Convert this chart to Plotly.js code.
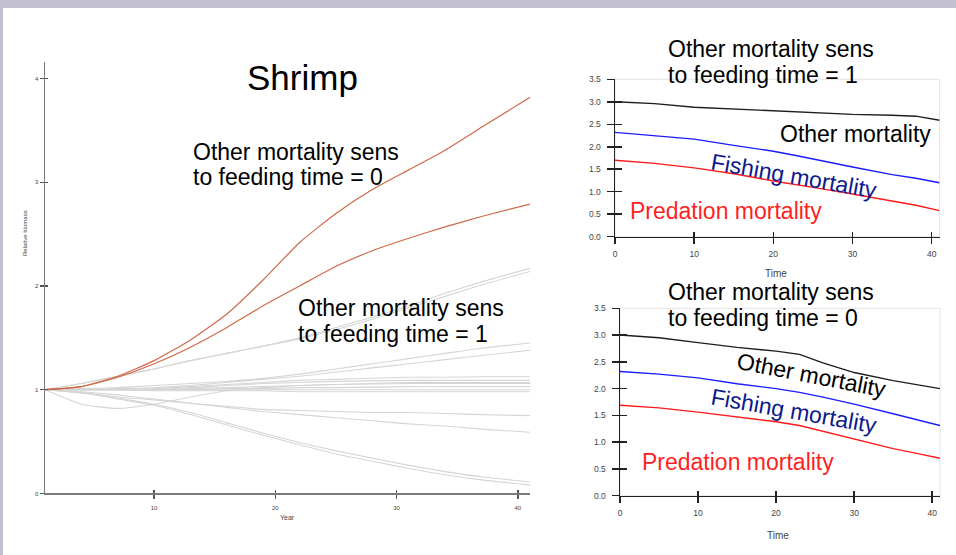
<!DOCTYPE html>
<html>
<head>
<meta charset="utf-8">
<script src="https://cdn.plot.ly/plotly-3.0.1.min.js"></script>
<style>
  html, body { margin: 0; padding: 0; background: #ffffff; }
  #chart { width: 956px; height: 555px; }
</style>
</head>
<body>
<div id="chart"></div>
<script>
// ---- Shrimp relative biomass (left panel) ----
const years = [1, 4, 7, 10, 13, 16, 19, 22, 25, 28, 31, 34, 37, 41];

// highlighted runs (other mortality sens to feeding time = 0)
const shrimpHighA = [1.00, 1.03, 1.13, 1.28, 1.48, 1.73, 2.06, 2.42, 2.70, 2.93, 3.12, 3.31, 3.53, 3.82];
const shrimpHighB = [1.00, 1.03, 1.12, 1.25, 1.41, 1.60, 1.81, 2.00, 2.19, 2.34, 2.46, 2.57, 2.67, 2.79];

// other runs (other mortality sens to feeding time = 1)
const runRiseA  = [1.00, 1.06, 1.13, 1.20, 1.28, 1.35, 1.42, 1.49, 1.58, 1.68, 1.79, 1.90, 2.01, 2.14];
const runRiseB  = [1.00, 1.06, 1.13, 1.20, 1.28, 1.35, 1.42, 1.50, 1.60, 1.70, 1.81, 1.93, 2.04, 2.17];
const runRiseC  = [1.00, 1.01, 1.02, 1.04, 1.06, 1.08, 1.11, 1.15, 1.20, 1.25, 1.30, 1.35, 1.40, 1.45];
const runRiseD  = [1.00, 1.00, 1.01, 1.02, 1.04, 1.07, 1.10, 1.13, 1.17, 1.21, 1.25, 1.29, 1.33, 1.38];
const runFlatA  = [1.00, 1.00, 1.00, 1.01, 1.03, 1.05, 1.07, 1.09, 1.10, 1.11, 1.12, 1.12, 1.125, 1.125];
const runFlatB  = [1.00, 1.00, 1.00, 1.00, 1.02, 1.04, 1.06, 1.07, 1.08, 1.085, 1.09, 1.09, 1.09, 1.09];
const runFlatC  = [1.00, 1.00, 1.00, 1.00, 1.01, 1.02, 1.03, 1.04, 1.05, 1.055, 1.06, 1.06, 1.06, 1.06];
const runFlatD  = [1.00, 1.00, 1.00, 1.00, 1.00, 1.01, 1.01, 1.02, 1.02, 1.025, 1.03, 1.03, 1.03, 1.03];
const runFlatE  = [1.00, 1.00, 1.00, 1.00, 1.00, 1.00, 1.00, 1.00, 1.00, 1.00, 1.00, 1.00, 1.00, 1.00];
const runFlatF  = [1.00, 1.00, 1.00, 0.99, 0.99, 0.99, 0.99, 0.98, 0.98, 0.98, 0.98, 0.98, 0.98, 0.98];
const runDip    = [1.00, 0.86, 0.82, 0.86, 0.93, 0.99, 1.02, 1.04, 1.05, 1.06, 1.07, 1.07, 1.07, 1.07];
const runFallA  = [1.00, 0.97, 0.93, 0.90, 0.87, 0.84, 0.81, 0.80, 0.79, 0.78, 0.78, 0.77, 0.76, 0.75];
const runFallB  = [1.00, 0.98, 0.95, 0.91, 0.87, 0.83, 0.79, 0.76, 0.73, 0.70, 0.67, 0.65, 0.62, 0.59];
const runCrashA = [1.00, 0.97, 0.92, 0.86, 0.78, 0.68, 0.58, 0.49, 0.41, 0.34, 0.27, 0.21, 0.16, 0.11];
const runCrashB = [1.00, 0.97, 0.91, 0.85, 0.76, 0.66, 0.56, 0.47, 0.38, 0.31, 0.24, 0.18, 0.13, 0.08];

const greyRuns = [runRiseA, runRiseB, runRiseC, runRiseD, runFlatA, runFlatB, runFlatC,
                  runFlatD, runFlatE, runFlatF, runDip, runFallA, runFallB, runCrashA, runCrashB];

// ---- Mortality components (right panels) ----
const time = [0, 5, 10, 15, 20, 23, 26, 30, 35, 38, 41];
// other mortality sens to feeding time = 1
const otherM1     = [3.00, 2.96, 2.88, 2.84, 2.79, 2.77, 2.74, 2.72, 2.70, 2.68, 2.59];
const fishingM1   = [2.32, 2.25, 2.17, 2.03, 1.90, 1.80, 1.70, 1.55, 1.38, 1.30, 1.20];
const predationM1 = [1.70, 1.63, 1.53, 1.40, 1.24, 1.16, 1.07, 0.95, 0.80, 0.70, 0.58];
// other mortality sens to feeding time = 0
const otherM0     = [3.00, 2.95, 2.86, 2.77, 2.70, 2.64, 2.48, 2.30, 2.15, 2.07, 2.00];
const fishingM0   = [2.32, 2.27, 2.20, 2.09, 2.00, 1.93, 1.84, 1.71, 1.53, 1.42, 1.31];
const predationM0 = [1.69, 1.64, 1.56, 1.47, 1.38, 1.31, 1.20, 1.05, 0.88, 0.79, 0.70];

const yearTicks = [10, 20, 30, 40];
const biomassTicks = [0, 1, 2, 3, 4];
const timeTicks = [0, 10, 20, 30, 40];
const rateTicks = [0, 0.5, 1, 1.5, 2, 2.5, 3, 3.5];

// ---- layout helpers (pixel -> paper) ----
const W = 956, H = 555;
const px = v => v / W;
const py = v => 1 - v / H;
const FONT = 'Liberation Sans, Arial, Helvetica, sans-serif';

const traces = [];
greyRuns.forEach(r => traces.push({
  type: 'scatter', mode: 'lines', x: years, y: r, xaxis: 'x', yaxis: 'y',
  line: {color: '#d5d5d5', width: 1.1, shape: 'spline', smoothing: 0.5}
}));
[shrimpHighA, shrimpHighB].forEach(r => traces.push({
  type: 'scatter', mode: 'lines', x: years, y: r, xaxis: 'x', yaxis: 'y',
  line: {color: '#cf6a48', width: 1.2, shape: 'spline', smoothing: 0.5}
}));

function mortality(xa, ya, other, fishing, predation) {
  [[other, '#1e1e1e'], [fishing, '#1c1cff'], [predation, '#ff1a1a']].forEach(([v, c]) =>
    traces.push({type: 'scatter', mode: 'lines', x: time, y: v, xaxis: xa, yaxis: ya,
                 line: {color: c, width: 1.4}}));
}
mortality('x2', 'y2', otherM1, fishingM1, predationM1);
mortality('x3', 'y3', otherM0, fishingM0, predationM0);

// empty traces so the inside-tick overlay axes get drawn
[['x4', 'y'], ['x', 'y4'], ['x5', 'y2'], ['x2', 'y5'], ['x6', 'y3'], ['x3', 'y6']].forEach(([a, b]) =>
  traces.push({type: 'scatter', mode: 'lines', x: [], y: [], xaxis: a, yaxis: b, hoverinfo: 'skip'}));

function axis(opts) {
  return Object.assign({
    showgrid: false, zeroline: false, showline: true, ticks: 'outside',
    fixedrange: true
  }, opts);
}
function overlayAxis(over, anchor, range, vals, len, color, width) {
  return {
    overlaying: over, anchor: anchor, range: range, tickvals: vals, ticks: 'inside',
    ticklen: len, tickcolor: color, tickwidth: width, showticklabels: false,
    showline: false, showgrid: false, zeroline: false, fixedrange: true
  };
}

const leftX = [1, 41], leftY = [0, 4.163];
const rX = [0, 41], rY = [0, 3.5];

const layout = {
  width: W, height: H,
  margin: {l: 0, r: 0, t: 0, b: 0},
  paper_bgcolor: '#ffffff', plot_bgcolor: 'rgba(0,0,0,0)',
  showlegend: false, hovermode: false,
  font: {family: FONT, color: '#000'},

  xaxis: axis({domain: [px(45), px(530)], anchor: 'y', range: leftX, tickvals: yearTicks,
               ticklen: 4, tickcolor: '#555', tickwidth: 1.3, linecolor: '#7a7a7a', linewidth: 1.5,
               tickfont: {size: 6, color: '#444'}, ticklabelstandoff: 4}),
  yaxis: axis({domain: [py(493.4), py(61.7)], anchor: 'x', range: leftY, tickvals: biomassTicks,
               ticklen: 4, tickcolor: '#555', tickwidth: 1.3, linecolor: '#7a7a7a', linewidth: 1.5,
               tickfont: {size: 6, color: '#444'}}),
  xaxis4: overlayAxis('x', 'y', leftX, yearTicks, 3, '#555', 1.3),
  yaxis4: overlayAxis('y', 'x', leftY, biomassTicks, 3, '#555', 1.3),

  xaxis2: axis({domain: [px(615), px(939.6)], anchor: 'y2', range: rX, tickvals: timeTicks,
                ticklen: 6, tickcolor: '#222', tickwidth: 1.5, linecolor: '#222', linewidth: 1.5,
                tickfont: {size: 8.5, color: '#444'}, ticklabelstandoff: 3}),
  yaxis2: axis({domain: [py(236.7), py(79.3)], anchor: 'x2', range: rY, tickvals: rateTicks,
                tickformat: '.1f', ticklen: 7, tickcolor: '#222', tickwidth: 1.5,
                linecolor: '#222', linewidth: 1.5, tickfont: {size: 8.5, color: '#444'},
                ticklabelstandoff: 4}),
  xaxis5: overlayAxis('x2', 'y2', rX, timeTicks, 5, '#222', 1.5),
  yaxis5: overlayAxis('y2', 'x2', rY, rateTicks, 7, '#222', 1.5),

  xaxis3: axis({domain: [px(620), px(940)], anchor: 'y3', range: rX, tickvals: timeTicks,
                ticklen: 6, tickcolor: '#222', tickwidth: 1.5, linecolor: '#222', linewidth: 1.5,
                tickfont: {size: 8.5, color: '#444'}, ticklabelstandoff: 3}),
  yaxis3: axis({domain: [py(495.7), py(308.3)], anchor: 'x3', range: rY, tickvals: rateTicks,
                tickformat: '.1f', ticklen: 7, tickcolor: '#222', tickwidth: 1.5,
                linecolor: '#222', linewidth: 1.5, tickfont: {size: 8.5, color: '#444'},
                ticklabelstandoff: 4}),
  xaxis6: overlayAxis('x3', 'y3', rX, timeTicks, 5, '#222', 1.5),
  yaxis6: overlayAxis('y3', 'x3', rY, rateTicks, 7, '#222', 1.5),

  shapes: [
    // slide frame
    {type: 'rect', xref: 'paper', yref: 'paper', x0: 0, x1: 1, y0: py(8), y1: 1,
     fillcolor: '#c1bfd0', line: {width: 0}, layer: 'below'},
    {type: 'rect', xref: 'paper', yref: 'paper', x0: 0, x1: px(3), y0: 0, y1: 1,
     fillcolor: '#c1bfd0', line: {width: 0}, layer: 'below'},
    // light plot frames on the mortality panels
    {type: 'rect', xref: 'x2 domain', yref: 'y2 domain', x0: 0, x1: 1, y0: 0, y1: 1,
     line: {color: '#e4e4e4', width: 1}, layer: 'below'},
    {type: 'rect', xref: 'x3 domain', yref: 'y3 domain', x0: 0, x1: 1, y0: 0, y1: 1,
     line: {color: '#e4e4e4', width: 1}, layer: 'below'}
  ],
  annotations: []
};

function note(text, x, y, o) {
  o = o || {};
  layout.annotations.push({
    text: text, xref: 'paper', yref: 'paper', x: px(x), y: py(y),
    xanchor: o.xa || 'left', yanchor: 'middle', showarrow: false,
    textangle: o.angle || 0,
    font: {family: FONT, size: o.size || 23, color: o.color || '#000'}
  });
}

note('Shrimp', 302, 77, {xa: 'center', size: 35});
note('Other mortality sens', 191, 152);
note('to feeding time = 0', 191, 177);
note('Other mortality sens', 296, 308);
note('to feeding time = 1', 296, 334);
note('Year', 287, 517, {xa: 'center', size: 7, color: '#444'});
note('Relative biomass', 25, 233, {xa: 'center', size: 6, color: '#444', angle: -90});

note('Other mortality sens', 666, 49.5);
note('to feeding time = 1', 666, 75.5);
note('Other mortality', 778, 134);
note('Fishing mortality', 794, 176, {xa: 'center', angle: 10, color: '#0d1a8c'});
note('Predation mortality', 628, 211, {color: '#ff1f1f'});
note('Time', 776, 273, {xa: 'center', size: 10, color: '#444'});

note('Other mortality sens', 666, 292);
note('to feeding time = 0', 666, 318);
note('Other mortality', 811, 375, {xa: 'center', angle: 11});
note('Fishing mortality', 794, 411, {xa: 'center', angle: 10, color: '#0d1a8c'});
note('Predation mortality', 640, 462, {color: '#ff1f1f'});
note('Time', 778, 535, {xa: 'center', size: 10, color: '#444'});

Plotly.newPlot('chart', traces, layout, {staticPlot: true, displayModeBar: false});
</script>
</body>
</html>
